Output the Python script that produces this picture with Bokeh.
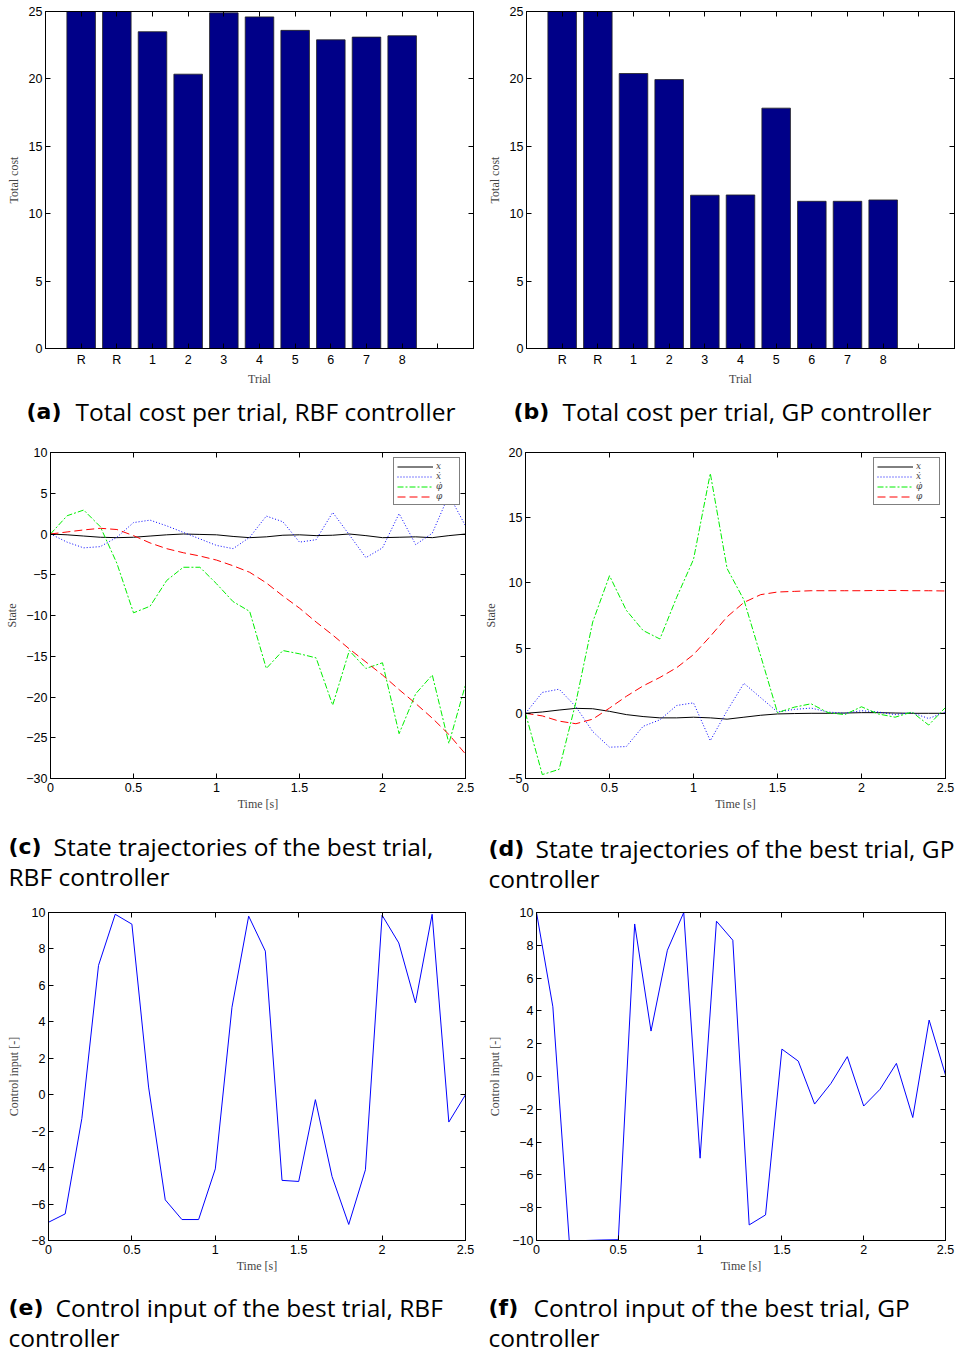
from bokeh.plotting import figure
from bokeh.layouts import column, row
from bokeh.models import (Range1d, FixedTicker, LinearAxis, CustomJSTickFormatter,
                          Legend, LegendItem, Label)
from bokeh.embed import file_html
from bokeh.resources import INLINE

# ---------------- data ----------------
trial_labels = ["R", "R", "1", "2", "3", "4", "5", "6", "7", "8", ""]
cost_rbf = [27.0, 27.0, 23.5, 20.35, 24.9, 24.6, 23.6, 22.9, 23.1, 23.2]
cost_gp = [27.0, 27.0, 20.4, 19.95, 11.37, 11.39, 17.83, 10.92, 10.92, 11.02]

time_s = [0.0, 0.1, 0.2, 0.3, 0.4, 0.5, 0.6, 0.7, 0.8, 0.9, 1.0, 1.1, 1.2,
          1.3, 1.4, 1.5, 1.6, 1.7, 1.8, 1.9, 2.0, 2.1, 2.2, 2.3, 2.4, 2.5]

# RBF controller, best trial states
rbf_x = [0.0, -0.1, -0.25, -0.4, -0.45, -0.4, -0.25, -0.1, 0.0, -0.05, -0.1, -0.3, -0.45,
         -0.35, -0.15, -0.1, -0.2, -0.15, 0.0, -0.2, -0.45, -0.4, -0.35, -0.45, -0.2, 0.0]
rbf_xdot = [0.0, -1.0, -1.7, -1.55, -0.4, 1.4, 1.7, 1.0, 0.2, -0.6, -1.4, -1.8, -0.4,
            2.2, 1.5, -1.0, -0.7, 2.65, -0.1, -2.9, -1.7, 2.5, -1.3, 0.1, 4.8, 1.0]
rbf_phidot = [0.0, 2.24, 2.94, 0.9, -3.6, -9.67, -8.86, -5.7, -4.08, -4.08, -6.1, -8.3, -9.5,
              -16.5, -14.3, -14.7, -15.2, -21.0, -14.3, -16.5, -15.8, -24.5, -19.6, -17.3, -25.7, -18.5]
rbf_phi = [0.0, 0.25, 0.5, 0.7, 0.55, -0.2, -1.1, -1.8, -2.3, -2.7, -3.2, -3.9, -4.7,
           -6.0, -7.6, -9.1, -10.8, -12.4, -14.1, -15.7, -17.3, -19.1, -20.8, -22.6, -24.6, -27.0]

# GP controller, best trial states
gp_x = [0.0, 0.1, 0.25, 0.38, 0.35, 0.15, -0.1, -0.25, -0.35, -0.35, -0.3, -0.35, -0.45,
        -0.3, -0.15, -0.05, -0.02, 0.0, 0.0, 0.02, 0.05, 0.05, 0.02, 0.0, 0.0, 0.0]
gp_xdot = [0.0, 1.6, 1.85, 0.5, -1.4, -2.6, -2.55, -1.0, -0.5, 0.6, 0.8, -2.1, 0.2,
           2.3, 1.2, 0.1, 0.3, 0.4, 0.1, 0.0, 0.2, 0.1, -0.1, 0.05, -0.4, 0.1]
gp_phidot = [0.0, -4.7, -4.3, 0.85, 7.0, 10.55, 7.9, 6.35, 5.7, 8.9, 11.8, 18.4, 11.1,
             8.7, 4.4, 0.05, 0.47, 0.73, 0.05, -0.1, 0.5, -0.05, -0.3, 0.1, -0.9, 0.45]
gp_phi = [0.0, -0.2, -0.6, -0.8, -0.45, 0.4, 1.3, 2.1, 2.75, 3.5, 4.5, 5.9, 7.4,
          8.5, 9.1, 9.3, 9.35, 9.4, 9.4, 9.4, 9.4, 9.42, 9.42, 9.4, 9.4, 9.38]

# control inputs
u_rbf = [-7.0, -6.54, -1.3, 7.1, 9.9, 9.36, 0.42, -5.77, -6.85, -6.85, -4.07, 4.8, 9.8,
         7.88, -4.7, -4.76, -0.27, -4.49, -7.12, -4.12, 9.85, 8.33, 5.04, 9.9, -1.5, 0.0]
u_gp = [10.0, 4.25, -10.0, -10.0, -9.97, -9.95, 9.3, 2.77, 7.7, 10.0, -4.98, 9.47, 8.31,
        -9.05, -8.44, 1.67, 0.94, -1.68, -0.42, 1.21, -1.8, -0.78, 0.8, -2.5, 3.44, 0.09]

state_labels = ["x", "\u1e8b", "\u03c6\u0307", "\u03c6"]

bar_ticks = [1, 2, 3, 4, 5, 6, 7, 8, 9, 10, 11]
time_ticks = [0, 0.5, 1, 1.5, 2, 2.5]

# ---------------- styling helpers ----------------
TICK_FONT = "Liberation Sans"
LABEL_FONT = "Liberation Serif"
CAP_FONT = "Open Sans"
CAP_BOLD_FONT = "DejaVu Sans"

minus_fmt = CustomJSTickFormatter(
    code="return String(Math.round(tick*100)/100).replace('-', '\\u2212');")


def style_axis(ax, label_standoff=4, axis_label_standoff=4):
    ax.major_tick_in = 5
    ax.major_tick_out = 0
    ax.minor_tick_line_color = None
    ax.axis_line_color = "black"
    ax.major_tick_line_color = "black"
    ax.major_label_text_font = TICK_FONT
    ax.major_label_text_font_size = "12.5px"
    ax.major_label_text_color = "black"
    ax.major_label_standoff = label_standoff
    ax.axis_label_text_font = LABEL_FONT
    ax.axis_label_text_font_style = "normal"
    ax.axis_label_text_font_size = "12px"
    ax.axis_label_text_color = "#444444"
    ax.axis_label_standoff = axis_label_standoff


def make_fig(w, h, xr, yr, xticks, yticks, borders, xlabel, ylabel,
             ylab_standoff=6, xoverrides=None):
    top, bottom, left, right = borders
    p = figure(width=w, height=h, x_range=Range1d(*xr), y_range=Range1d(*yr),
               toolbar_location=None, output_backend="svg",
               min_border_top=top, min_border_bottom=bottom,
               min_border_left=left, min_border_right=right)
    p.grid.visible = False
    p.outline_line_color = "black"
    p.background_fill_color = "white"
    p.border_fill_color = "white"
    p.xaxis.ticker = FixedTicker(ticks=xticks)
    p.yaxis.ticker = FixedTicker(ticks=yticks)
    if xoverrides is not None:
        p.xaxis.major_label_overrides = xoverrides
    else:
        p.xaxis.formatter = minus_fmt
    p.yaxis.formatter = minus_fmt
    p.xaxis.axis_label = xlabel
    p.yaxis.axis_label = ylabel
    style_axis(p.xaxis[0], 4, 2)
    style_axis(p.yaxis[0], 3, ylab_standoff)
    # mirrored ticks on top and right (box on)
    for side, ticks in (("above", xticks), ("right", yticks)):
        ax = LinearAxis(ticker=FixedTicker(ticks=ticks))
        style_axis(ax, 0, 0)
        ax.major_label_text_font_size = "0px"
        ax.major_label_text_color = None
        p.add_layout(ax, side)
    return p


def caption_fig(w, h, parts):
    c = figure(width=w, height=h, x_range=Range1d(0, w), y_range=Range1d(0, h),
               toolbar_location=None, output_backend="svg", min_border=0,
               x_axis_type=None, y_axis_type=None)
    c.outline_line_color = None
    c.grid.visible = False
    for (x, y, text, bold) in parts:
        c.add_layout(Label(x=x, y=y, text=text,
                           text_font=CAP_BOLD_FONT if bold else CAP_FONT,
                           text_font_size="22px" if bold else "24.5px",
                           text_font_style="bold" if bold else "normal",
                           text_color="black", text_baseline="alphabetic"))
    return c


def add_states(p, xs, series):
    styles = [("black", "solid"), ("#0000ff", "1 2"),
              ("#00ee00", "6 2 2 2"), ("#ff0000", "8 4")]
    items = []
    for (col, dash), ys, lab in zip(styles, series, state_labels):
        r = p.line(xs, ys, line_color=col, line_dash=dash, line_width=1)
        items.append(LegendItem(label=lab, renderers=[r]))
    leg = Legend(items=items, location="top_right", margin=5, padding=3,
                 spacing=0, glyph_width=36, glyph_height=9, label_height=9,
                 label_standoff=3, label_text_font="DejaVu Serif",
                 label_text_font_style="italic", label_text_font_size="9px",
                 border_line_color="black", border_line_width=1,
                 background_fill_alpha=1.0)
    p.add_layout(leg)


bar_over = {t: lab for t, lab in zip(bar_ticks, trial_labels)}
bar_pos = list(range(1, len(cost_rbf) + 1))

# (a)
pa = make_fig(480, 388, (0, 12), (0, 25), bar_ticks, [0, 5, 10, 15, 20, 25],
              (11, 39, 45, 7), "Trial", "Total cost", 5, bar_over)
pa.vbar(x=bar_pos, top=cost_rbf, width=0.8, fill_color="#000088",
        line_color="#222222", line_width=0.8)
# (b)
pb = make_fig(476, 388, (0, 12), (0, 25), bar_ticks, [0, 5, 10, 15, 20, 25],
              (11, 39, 46, 2), "Trial", "Total cost", 5, bar_over)
pb.vbar(x=bar_pos, top=cost_gp, width=0.8, fill_color="#000088",
        line_color="#222222", line_width=0.8)

# (c)
pc = make_fig(480, 385, (0, 2.5), (-30, 10), time_ticks,
              [-30, -25, -20, -15, -10, -5, 0, 5, 10],
              (12, 47, 50, 15), "Time [s]", "State", 4)
add_states(pc, time_s, [rbf_x, rbf_xdot, rbf_phidot, rbf_phi])
# (d)
pd_ = make_fig(476, 385, (0, 2.5), (-5, 20), time_ticks,
               [-5, 0, 5, 10, 15, 20],
               (10, 44, 45, 11), "Time [s]", "State", 7)
add_states(pd_, time_s, [gp_x, gp_xdot, gp_phidot, gp_phi])

# (e)
pe = make_fig(480, 385, (0, 2.5), (-8, 10), time_ticks,
              [-8, -6, -4, -2, 0, 2, 4, 6, 8, 10],
              (12, 45, 48, 15), "Time [s]", "Control input [-]", 7)
pe.line(time_s, u_rbf, line_color="#0000ff", line_width=1)
# (f)
pf = make_fig(476, 385, (0, 2.5), (-10, 10), time_ticks,
              [-10, -8, -6, -4, -2, 0, 2, 4, 6, 8, 10],
              (12, 45, 56, 11), "Time [s]", "Control input [-]", 7)
pf.line(time_s, u_gp, line_color="#0000ff", line_width=1)

# captions
ca = caption_fig(480, 52, [(26, 29, "(a)", True), (75, 29, "Total cost per trial, RBF controller", False)])
cb = caption_fig(476, 52, [(33, 29, "(b)", True), (82, 29, "Total cost per trial, GP controller", False)])
cc = caption_fig(480, 75, [(8, 54, "(c)", True), (53, 54, "State trajectories of the best trial,", False),
                           (8, 24, "RBF controller", False)])
cd = caption_fig(476, 75, [(8, 52, "(d)", True), (55, 52, "State trajectories of the best trial, GP", False),
                           (8, 22, "controller", False)])
ce = caption_fig(480, 68, [(8, 46, "(e)", True), (55, 46, "Control input of the best trial, RBF", False),
                           (8, 16, "controller", False)])
cf = caption_fig(476, 68, [(8, 46, "(f)", True), (53, 46, "Control input of the best trial, GP", False),
                           (8, 16, "controller", False)])

layout = column(
    row(pa, pb, spacing=0),
    row(ca, cb, spacing=0),
    row(pc, pd_, spacing=0),
    row(cc, cd, spacing=0),
    row(pe, pf, spacing=0),
    row(ce, cf, spacing=0),
    spacing=0,
)

open("out.html", "w").write(file_html(layout, INLINE))
